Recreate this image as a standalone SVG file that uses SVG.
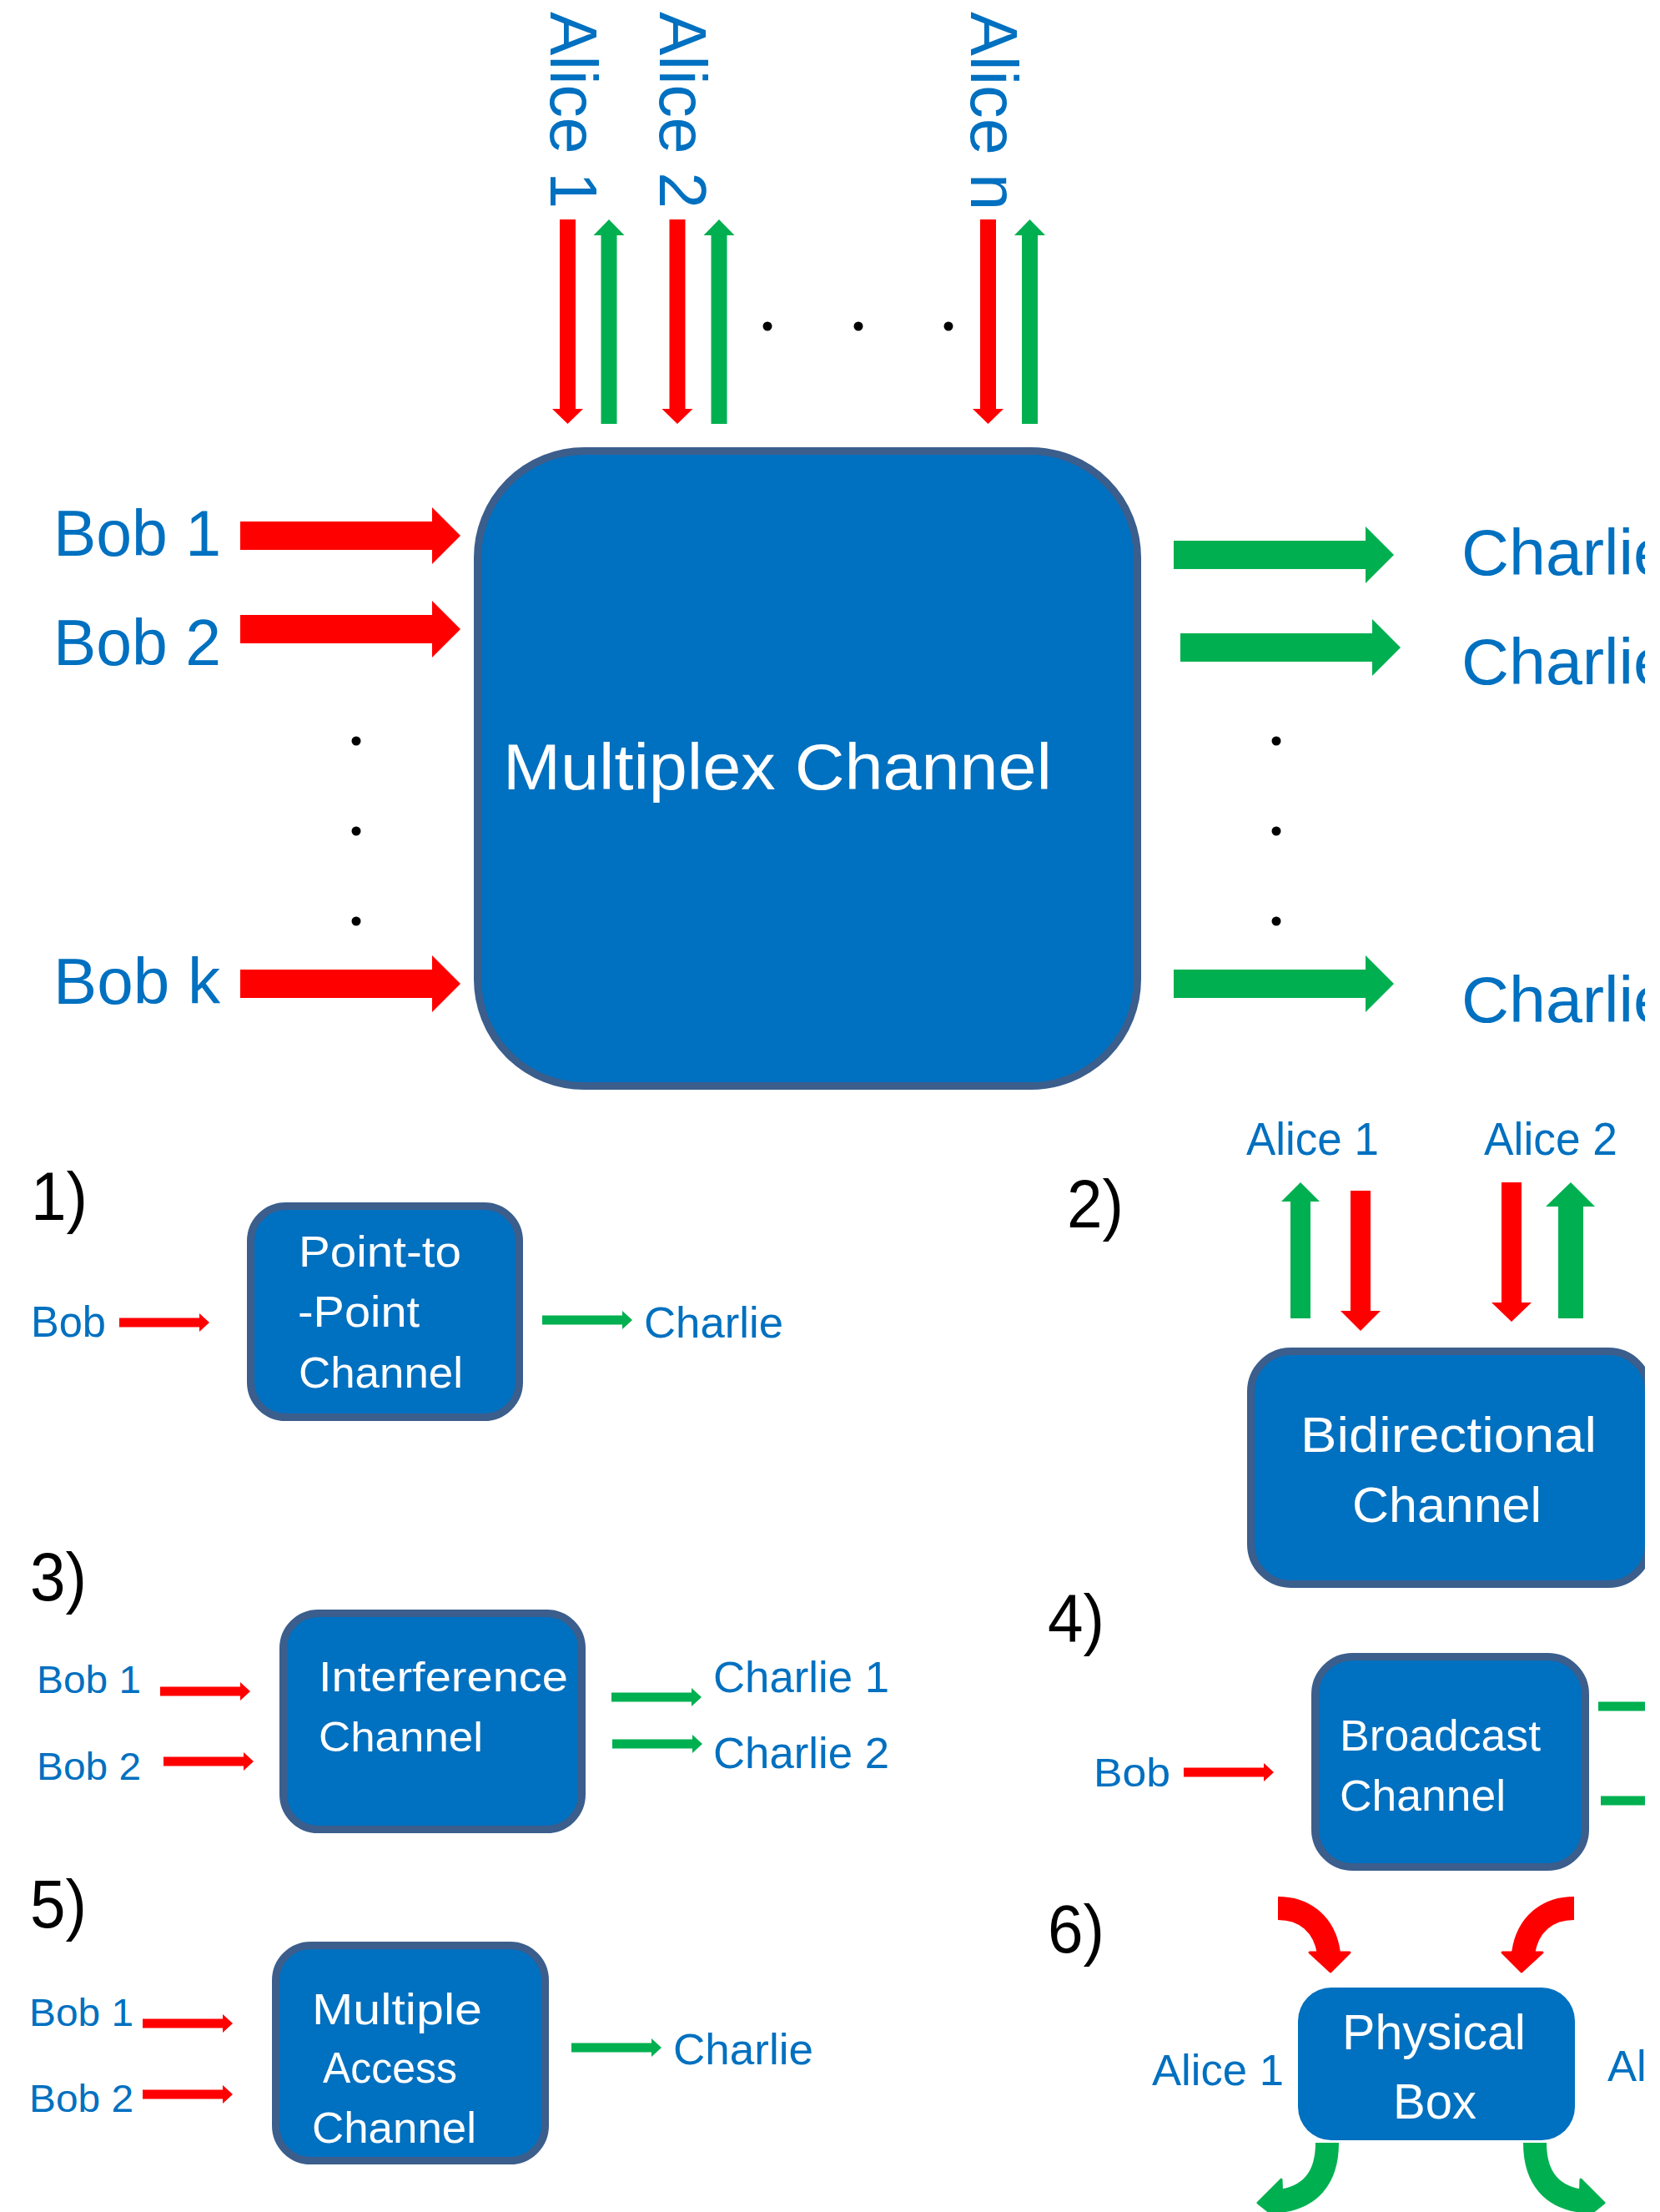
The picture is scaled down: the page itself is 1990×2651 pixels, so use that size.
<svg xmlns="http://www.w3.org/2000/svg" width="1990" height="2651" viewBox="0 0 1990 2651">
<style>
  text { font-family: 'Liberation Sans', Arial, sans-serif; }
  .b { fill: #0070C0; }
  .w { fill: #FFFFFF; }
  .k { fill: #000000; }
  .box { fill: #0070C0; stroke: #3B5E8C; stroke-width: 9; }
  .plain { fill: #0070C0; }
  .red { fill: #FF0000; }
  .grn { fill: #00B050; }
  .cr { fill: none; stroke: #FF0000; stroke-width: 28; }
  .cg { fill: none; stroke: #00B050; stroke-width: 28; }
  .dot { fill: #000000; }
</style>
<defs>
  <clipPath id="clip"><rect x="0" y="0" width="1972" height="2651"/></clipPath>
  <polygon id="bigArrow" points="0,-17 230,-17 230,-34 264,0 230,34 230,17 0,17"/>
  <polygon id="vDown" points="-9.5,0 9.5,0 9.5,227 18.5,227 0,245 -18.5,227 -9.5,227"/>
  <polygon id="vUp" points="0,0 18.5,19 9.5,19 9.5,245 -9.5,245 -9.5,19 -18.5,19"/>
  <polygon id="sArrow" points="0,-5.5 96,-5.5 96,-11 108,0 96,11 96,5.5 0,5.5"/>
</defs>
<rect x="0" y="0" width="1990" height="2651" fill="#FFFFFF"/>
<g clip-path="url(#clip)">

<!-- ===== Main multiplex diagram ===== -->
<g id="multiplex-channel">
  <rect class="box" x="572.5" y="540.5" width="791" height="761" rx="128" ry="128"/>
  <text class="w" x="603" y="946" font-size="78" textLength="658" lengthAdjust="spacingAndGlyphs">Multiplex Channel</text>
</g>
<g id="alice-top-1"><text class="b" font-size="80" transform="translate(660,14) rotate(90)" textLength="236" lengthAdjust="spacingAndGlyphs">Alice 1</text></g>
<g id="alice-top-2"><text class="b" font-size="80" transform="translate(791,14) rotate(90)" textLength="236" lengthAdjust="spacingAndGlyphs">Alice 2</text></g>
<g id="alice-top-n"><text class="b" font-size="80" transform="translate(1164,14) rotate(90)" textLength="238" lengthAdjust="spacingAndGlyphs">Alice n</text></g>
<g id="bob-1"><text class="b" x="64" y="666" font-size="78" textLength="201" lengthAdjust="spacingAndGlyphs">Bob 1</text></g>
<g id="bob-2"><text class="b" x="64" y="797" font-size="78" textLength="201" lengthAdjust="spacingAndGlyphs">Bob 2</text></g>
<g id="bob-k"><text class="b" x="64" y="1203" font-size="78" textLength="200" lengthAdjust="spacingAndGlyphs">Bob k</text></g>
<g id="charlie-1"><text class="b" x="1752" y="689" font-size="78" textLength="250" lengthAdjust="spacingAndGlyphs">Charlie</text></g>
<g id="charlie-2"><text class="b" x="1752" y="820" font-size="78" textLength="250" lengthAdjust="spacingAndGlyphs">Charlie</text></g>
<g id="charlie-m"><text class="b" x="1752" y="1225" font-size="78" textLength="250" lengthAdjust="spacingAndGlyphs">Charlie</text></g>
<g id="ellipses">
  <circle class="dot" cx="920" cy="391" r="5.5"/>
  <circle class="dot" cx="1029" cy="391" r="5.5"/>
  <circle class="dot" cx="1137" cy="391" r="5.5"/>
  <circle class="dot" cx="427" cy="888" r="5.5"/>
  <circle class="dot" cx="427" cy="996" r="5.5"/>
  <circle class="dot" cx="427" cy="1104" r="5.5"/>
  <circle class="dot" cx="1530" cy="888" r="5.5"/>
  <circle class="dot" cx="1530" cy="996" r="5.5"/>
  <circle class="dot" cx="1530" cy="1104" r="5.5"/>
</g>

<!-- ===== 1) Point-to-Point ===== -->
<g id="label-1"><text class="k" x="37" y="1462" font-size="82" textLength="68" lengthAdjust="spacingAndGlyphs">1)</text></g>
<g id="point-to-point-channel">
  <rect class="box" x="300.5" y="1445.5" width="322" height="253" rx="42" ry="42"/>
  <text class="w" x="358" y="1518" font-size="52" textLength="195" lengthAdjust="spacingAndGlyphs">Point-to</text>
  <text class="w" x="357" y="1590" font-size="52" textLength="146" lengthAdjust="spacingAndGlyphs">-Point</text>
  <text class="w" x="358" y="1663" font-size="52" textLength="197" lengthAdjust="spacingAndGlyphs">Channel</text>
</g>
<g id="p2p-bob"><text class="b" x="37" y="1602" font-size="52" textLength="90" lengthAdjust="spacingAndGlyphs">Bob</text></g>
<g id="p2p-charlie"><text class="b" x="772" y="1603" font-size="52" textLength="167" lengthAdjust="spacingAndGlyphs">Charlie</text></g>

<!-- ===== 2) Bidirectional ===== -->
<g id="label-2"><text class="k" x="1279" y="1471" font-size="82" textLength="68" lengthAdjust="spacingAndGlyphs">2)</text></g>
<g id="bidirectional-channel">
  <rect class="box" x="1499.5" y="1619.5" width="477" height="279" rx="48" ry="48"/>
  <text class="w" x="1559" y="1740" font-size="59" textLength="355" lengthAdjust="spacingAndGlyphs">Bidirectional</text>
  <text class="w" x="1621" y="1824" font-size="59" textLength="227" lengthAdjust="spacingAndGlyphs">Channel</text>
</g>
<g id="bi-alice-1"><text class="b" x="1494" y="1384" font-size="55" textLength="159" lengthAdjust="spacingAndGlyphs">Alice 1</text></g>
<g id="bi-alice-2"><text class="b" x="1779" y="1384" font-size="55" textLength="160" lengthAdjust="spacingAndGlyphs">Alice 2</text></g>

<!-- ===== 3) Interference ===== -->
<g id="label-3"><text class="k" x="36" y="1918" font-size="82" textLength="68" lengthAdjust="spacingAndGlyphs">3)</text></g>
<g id="interference-channel">
  <rect class="box" x="339.5" y="1933.5" width="358" height="259" rx="42" ry="42"/>
  <text class="w" x="382" y="2027" font-size="50" textLength="299" lengthAdjust="spacingAndGlyphs">Interference</text>
  <text class="w" x="382" y="2099" font-size="50" textLength="197" lengthAdjust="spacingAndGlyphs">Channel</text>
</g>
<g id="ic-bob-1"><text class="b" x="44" y="2029" font-size="47" textLength="125" lengthAdjust="spacingAndGlyphs">Bob 1</text></g>
<g id="ic-bob-2"><text class="b" x="44" y="2133" font-size="47" textLength="125" lengthAdjust="spacingAndGlyphs">Bob 2</text></g>
<g id="ic-charlie-1"><text class="b" x="855" y="2028" font-size="51" textLength="211" lengthAdjust="spacingAndGlyphs">Charlie 1</text></g>
<g id="ic-charlie-2"><text class="b" x="855" y="2119" font-size="51" textLength="211" lengthAdjust="spacingAndGlyphs">Charlie 2</text></g>

<!-- ===== 4) Broadcast ===== -->
<g id="label-4"><text class="k" x="1256" y="1968" font-size="82" textLength="68" lengthAdjust="spacingAndGlyphs">4)</text></g>
<g id="broadcast-channel">
  <rect class="box" x="1576.5" y="1985.5" width="324" height="252" rx="45" ry="45"/>
  <text class="w" x="1606" y="2098" font-size="51" textLength="241" lengthAdjust="spacingAndGlyphs">Broadcast</text>
  <text class="w" x="1606" y="2170" font-size="51" textLength="199" lengthAdjust="spacingAndGlyphs">Channel</text>
</g>
<g id="bc-bob"><text class="b" x="1311" y="2141" font-size="48" textLength="92" lengthAdjust="spacingAndGlyphs">Bob</text></g>

<!-- ===== 5) Multiple Access ===== -->
<g id="label-5"><text class="k" x="36" y="2310" font-size="82" textLength="68" lengthAdjust="spacingAndGlyphs">5)</text></g>
<g id="multiple-access-channel">
  <rect class="box" x="330.5" y="2331.5" width="323" height="258" rx="42" ry="42"/>
  <text class="w" x="374" y="2426" font-size="52" textLength="204" lengthAdjust="spacingAndGlyphs">Multiple</text>
  <text class="w" x="387" y="2496" font-size="52" textLength="161" lengthAdjust="spacingAndGlyphs">Access</text>
  <text class="w" x="374" y="2568" font-size="52" textLength="197" lengthAdjust="spacingAndGlyphs">Channel</text>
</g>
<g id="mac-bob-1"><text class="b" x="35" y="2428" font-size="46" textLength="125" lengthAdjust="spacingAndGlyphs">Bob 1</text></g>
<g id="mac-bob-2"><text class="b" x="35" y="2531" font-size="46" textLength="125" lengthAdjust="spacingAndGlyphs">Bob 2</text></g>
<g id="mac-charlie"><text class="b" x="807" y="2474" font-size="52" textLength="168" lengthAdjust="spacingAndGlyphs">Charlie</text></g>

<!-- ===== 6) Physical Box ===== -->
<g id="label-6"><text class="k" x="1256" y="2340" font-size="82" textLength="68" lengthAdjust="spacingAndGlyphs">6)</text></g>
<g id="physical-box">
  <rect class="plain" x="1556" y="2382" width="332" height="183" rx="40" ry="40"/>
  <text class="w" x="1609" y="2456" font-size="60" textLength="220" lengthAdjust="spacingAndGlyphs">Physical</text>
  <text class="w" x="1670" y="2539" font-size="60" textLength="100" lengthAdjust="spacingAndGlyphs">Box</text>
</g>
<g id="pb-alice-1"><text class="b" x="1381" y="2499" font-size="51" textLength="158" lengthAdjust="spacingAndGlyphs">Alice 1</text></g>
<g id="pb-alice-2"><text class="b" x="1927" y="2494" font-size="51" textLength="158" lengthAdjust="spacingAndGlyphs">Alice 2</text></g>

<!-- ===== Connectors ===== -->
<g id="connectors">
  <!-- top Alice arrows -->
  <use href="#vDown" x="680.5" y="263" class="red"/>
  <use href="#vUp" x="730" y="263" class="grn"/>
  <use href="#vDown" x="812" y="263" class="red"/>
  <use href="#vUp" x="862" y="263" class="grn"/>
  <use href="#vDown" x="1184.5" y="263" class="red"/>
  <use href="#vUp" x="1234.5" y="263" class="grn"/>
  <!-- Bob arrows -->
  <use href="#bigArrow" x="288" y="642" class="red"/>
  <use href="#bigArrow" x="288" y="754" class="red"/>
  <use href="#bigArrow" x="288" y="1179" class="red"/>
  <!-- Charlie arrows -->
  <use href="#bigArrow" x="1407" y="665" class="grn"/>
  <use href="#bigArrow" x="1415" y="776" class="grn"/>
  <use href="#bigArrow" x="1407" y="1179" class="grn"/>
  <!-- 1) -->
  <use href="#sArrow" x="143" y="1585" class="red"/>
  <use href="#sArrow" x="650" y="1582" class="grn"/>
  <!-- 2) -->
  <polygon class="grn" points="1559,1417 1582,1440 1571,1440 1571,1580 1547,1580 1547,1440 1536,1440"/>
  <polygon class="red" points="1619,1427 1643,1427 1643,1571 1655,1571 1631,1595 1607,1571 1619,1571"/>
  <polygon class="red" points="1800,1417 1824,1417 1824,1561 1836,1561 1812,1584 1788,1561 1800,1561"/>
  <polygon class="grn" points="1883,1417 1912,1446 1898,1446 1898,1580 1868,1580 1868,1446 1853,1446"/>
  <!-- 3) -->
  <use href="#sArrow" x="192" y="2027" class="red"/>
  <use href="#sArrow" x="196" y="2111" class="red"/>
  <use href="#sArrow" x="733" y="2034" class="grn"/>
  <use href="#sArrow" x="734" y="2090" class="grn"/>
  <!-- 4) -->
  <use href="#sArrow" x="1419" y="2124" class="red"/>
  <use href="#sArrow" x="1916" y="2045" class="grn"/>
  <use href="#sArrow" x="1919" y="2158" class="grn"/>
  <!-- 5) -->
  <use href="#sArrow" x="171" y="2425" class="red"/>
  <use href="#sArrow" x="171" y="2510" class="red"/>
  <use href="#sArrow" x="685" y="2454" class="grn"/>
  <!-- 6) curved arrows -->
  <path class="cr" d="M1532 2287 C1564 2287 1588 2306 1593 2341"/>
  <polygon class="red" stroke="#FF0000" stroke-width="3" stroke-linejoin="round" points="1570,2340 1618,2340 1595,2363"/>
  <path class="cr" d="M1887 2287 C1855 2287 1831 2306 1826 2341"/>
  <polygon class="red" stroke="#FF0000" stroke-width="3" stroke-linejoin="round" points="1801,2340 1849,2340 1824,2363"/>
  <path class="cg" d="M1591 2568 C1591 2612 1569 2634 1533 2638"/>
  <polygon class="grn" stroke="#00B050" stroke-width="3" stroke-linejoin="round" points="1536,2612 1538,2664 1508,2640"/>
  <path class="cg" d="M1840 2568 C1840 2612 1862 2634 1898 2638"/>
  <polygon class="grn" stroke="#00B050" stroke-width="3" stroke-linejoin="round" points="1895,2612 1893,2664 1923,2640"/>
</g>
</g>
</svg>
